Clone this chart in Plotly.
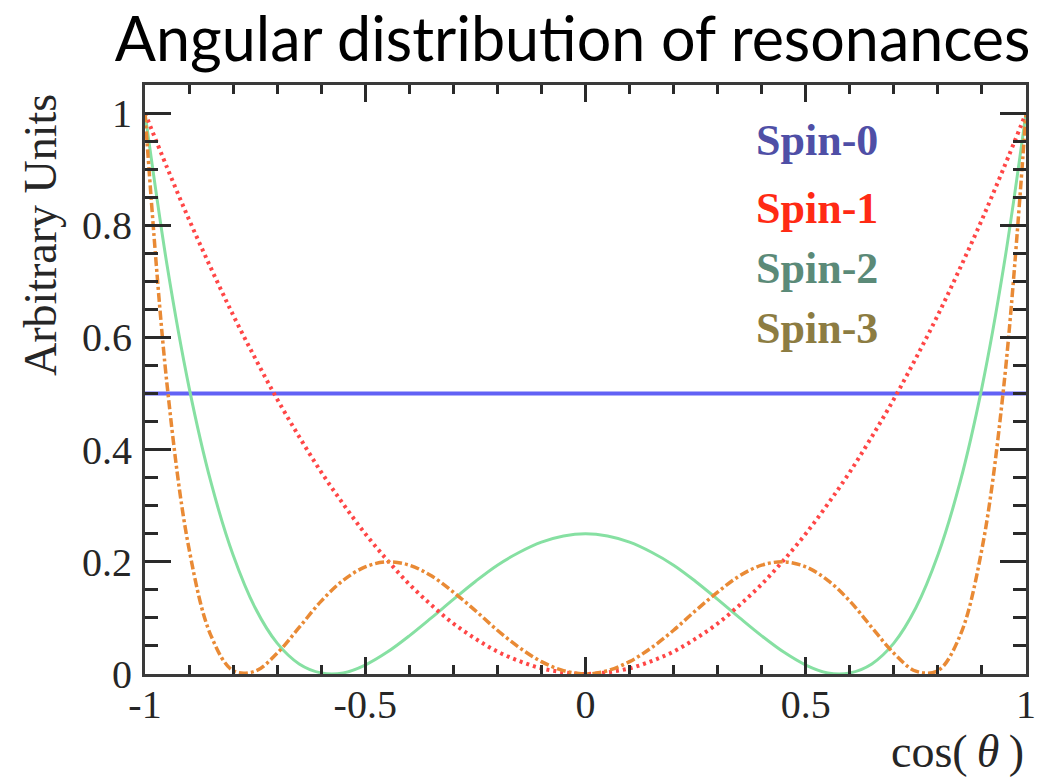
import plotly.graph_objects as go

# cos(theta) sample points
cos_theta = [-1.00, -0.95, -0.90, -0.85, -0.80, -0.75, -0.70, -0.65, -0.60, -0.55,
             -0.50, -0.45, -0.40, -0.35, -0.30, -0.25, -0.20, -0.15, -0.10, -0.05,
             0.00, 0.05, 0.10, 0.15, 0.20, 0.25, 0.30, 0.35, 0.40, 0.45,
             0.50, 0.55, 0.60, 0.65, 0.70, 0.75, 0.80, 0.85, 0.90, 0.95, 1.00]

spin0 = [0.5] * 41

spin1 = [1.000, 0.903, 0.810, 0.723, 0.640, 0.563, 0.490, 0.423, 0.360, 0.303,
         0.250, 0.203, 0.160, 0.123, 0.090, 0.063, 0.040, 0.023, 0.010, 0.003,
         0.000, 0.003, 0.010, 0.023, 0.040, 0.063, 0.090, 0.123, 0.160, 0.203,
         0.250, 0.303, 0.360, 0.423, 0.490, 0.563, 0.640, 0.723, 0.810, 0.903, 1.000]

spin2 = [1.000, 0.729, 0.511, 0.341, 0.212, 0.118, 0.055, 0.018, 0.002, 0.002,
         0.016, 0.039, 0.068, 0.100, 0.133, 0.165, 0.194, 0.217, 0.235, 0.246,
         0.250, 0.246, 0.235, 0.217, 0.194, 0.165, 0.133, 0.100, 0.068, 0.039,
         0.016, 0.002, 0.002, 0.018, 0.055, 0.118, 0.212, 0.341, 0.511, 0.729, 1.000]

spin3 = [1.000, 0.516, 0.223, 0.068, 0.006, 0.005, 0.037, 0.083, 0.130, 0.167,
         0.191, 0.200, 0.194, 0.175, 0.146, 0.113, 0.078, 0.047, 0.022, 0.006,
         0.000, 0.006, 0.022, 0.047, 0.078, 0.113, 0.146, 0.175, 0.194, 0.200,
         0.191, 0.167, 0.130, 0.083, 0.037, 0.005, 0.006, 0.068, 0.223, 0.516, 1.000]

labels = ["Spin-0", "Spin-1", "Spin-2", "Spin-3"]
label_colors = ["#4f4fa6", "#ff2a14", "#5b8a78", "#8c7c42"]
label_y = [140, 208, 268, 328]

fig = go.Figure()
fig.add_trace(go.Scatter(x=cos_theta, y=spin0, mode="lines",
                         line=dict(color="#6262f5", width=4), name="Spin-0"))
fig.add_trace(go.Scatter(x=cos_theta, y=spin2, mode="lines", line_shape="spline",
                         line=dict(color="#86e0a2", width=3), name="Spin-2"))
fig.add_trace(go.Scatter(x=cos_theta, y=spin1, mode="lines", line_shape="spline",
                         line=dict(color="#ff4646", width=4, dash="3px,4px"), name="Spin-1"))
fig.add_trace(go.Scatter(x=cos_theta, y=spin3, mode="lines", line_shape="spline",
                         line=dict(color="#e98a35", width=3.5, dash="9px,3px,3px,3px"),
                         name="Spin-3"))

L, R, T, B = 145, 13, 85, 107
W, H = 1048, 781
pw, ph = W - L - R, H - T - B

tick_font = dict(family="Liberation Serif", size=40, color="#262626")
axis_common = dict(showgrid=False, zeroline=False, showline=True, linewidth=3,
                   linecolor="#3a3a3a", mirror="allticks", ticks="inside",
                   tickcolor="#2a2a2a", tickwidth=2.5, tickfont=tick_font)

fig.update_xaxes(range=[-1, 1], tickvals=[-1, -0.5, 0, 0.5, 1],
                 ticktext=["-1", "-0.5", "0", "0.5", "1"], ticklen=17,
                 minor=dict(dtick=0.1, tick0=0, ticks="inside", ticklen=9,
                            tickwidth=2.5, tickcolor="#2a2a2a"),
                 ticklabelstandoff=-7, **axis_common)
fig.update_yaxes(range=[0, 1.05], tickvals=[0, 0.2, 0.4, 0.6, 0.8, 1],
                 ticktext=["0", "0.2", "0.4", "0.6", "0.8", "1"], ticklen=26,
                 minor=dict(dtick=0.05, tick0=0, ticks="inside", ticklen=13,
                            tickwidth=2.5, tickcolor="#2a2a2a"),
                 ticklabelstandoff=2, **axis_common)

annotations = []
for text, color, yp in zip(labels, label_colors, label_y):
    annotations.append(dict(text="<b>" + text + "</b>", xref="paper", yref="paper",
                            x=(760 - L) / pw, y=(H - B - yp) / ph,
                            xanchor="left", yanchor="middle", showarrow=False,
                            font=dict(family="Liberation Serif", size=44, color=color)))

annotations.append(dict(text="Arbitrary Units", textangle=-90, xref="paper", yref="paper",
                        x=(40 - L) / pw, y=(H - B - 235) / ph, xanchor="center",
                        yanchor="middle", showarrow=False,
                        font=dict(family="Liberation Serif", size=46, color="#262626")))
annotations.append(dict(text="cos(\u2009<i>θ</i>\u2009)", xref="paper", yref="paper",
                        x=(1035 - L) / pw, y=(H - B - 751) / ph, xanchor="right",
                        yanchor="middle", showarrow=False,
                        font=dict(family="Liberation Serif", size=46, color="#262626")))

fig.update_layout(
    width=W, height=H,
    margin=dict(l=L, r=R, t=T, b=B),
    paper_bgcolor="white", plot_bgcolor="white",
    showlegend=False,
    title=dict(text="Angular distribution of resonances", xref="paper", yref="container",
               x=(577 - L) / pw, xanchor="center", y=1 - 40 / H, yanchor="middle",
               font=dict(family="Lato", size=61, color="black")),
    annotations=annotations,
)

fig.write_html("out.html")
